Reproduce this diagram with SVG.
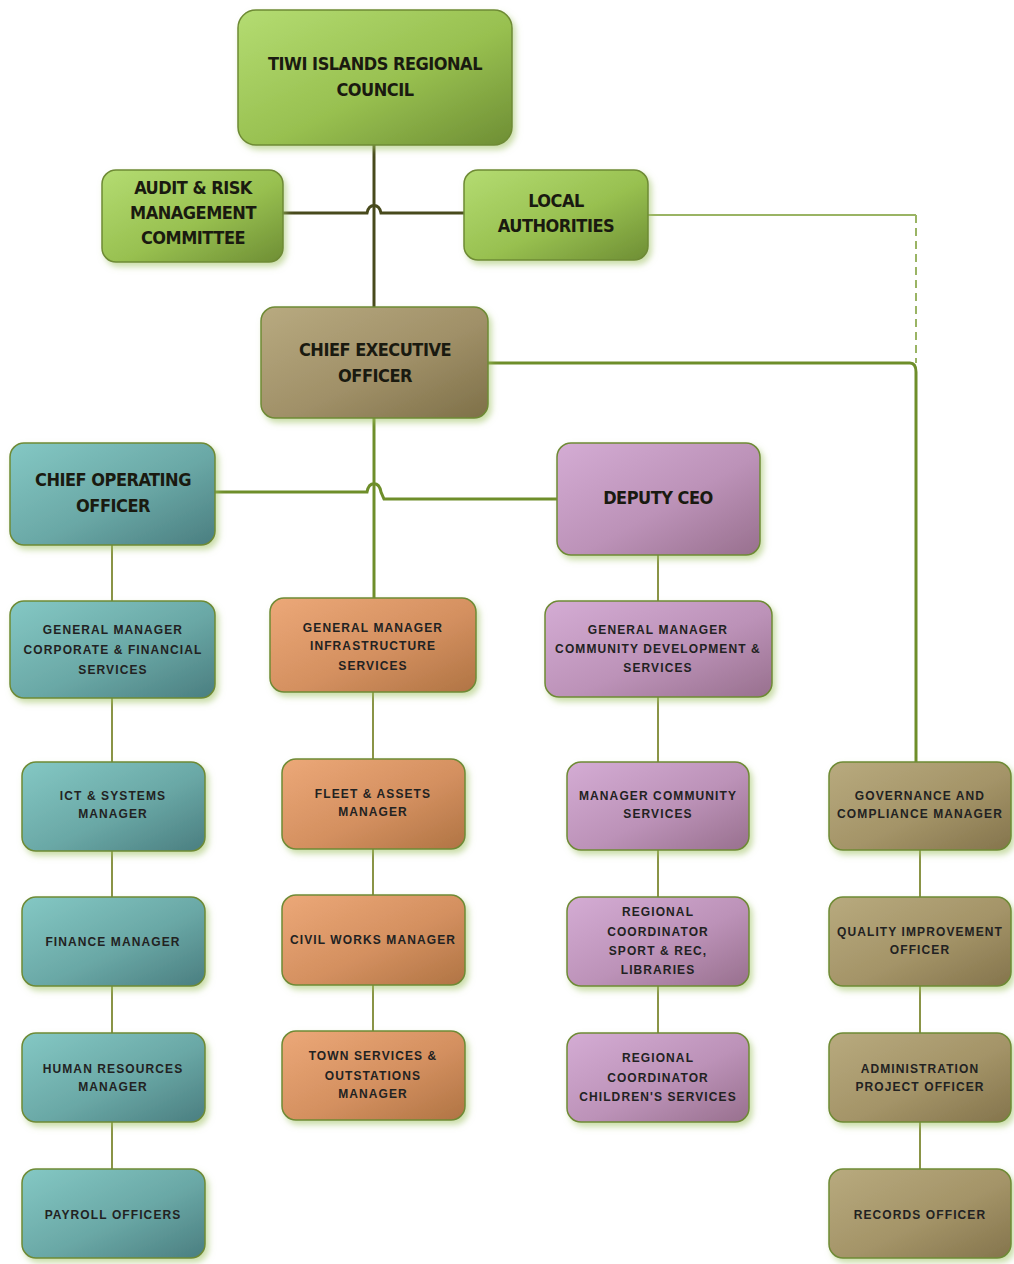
<svg xmlns="http://www.w3.org/2000/svg" width="1014" height="1264" viewBox="0 0 1014 1264">
<defs>
<linearGradient id="gGreen" x1="0" y1="0" x2="1" y2="1"><stop offset="0" stop-color="#b4dc72"/><stop offset="0.55" stop-color="#98c050"/><stop offset="1" stop-color="#6e8e34"/></linearGradient>
<linearGradient id="gCeo" x1="0" y1="0" x2="1" y2="1"><stop offset="0" stop-color="#b8aa80"/><stop offset="0.55" stop-color="#a09068"/><stop offset="1" stop-color="#7e7048"/></linearGradient>
<linearGradient id="gTeal" x1="0" y1="0" x2="1" y2="1"><stop offset="0" stop-color="#84c8c4"/><stop offset="0.55" stop-color="#6aa8a6"/><stop offset="1" stop-color="#4a7e80"/></linearGradient>
<linearGradient id="gOrange" x1="0" y1="0" x2="1" y2="1"><stop offset="0" stop-color="#eca878"/><stop offset="0.55" stop-color="#d49060"/><stop offset="1" stop-color="#b07444"/></linearGradient>
<linearGradient id="gPurple" x1="0" y1="0" x2="1" y2="1"><stop offset="0" stop-color="#d4acd4"/><stop offset="0.55" stop-color="#bc92b8"/><stop offset="1" stop-color="#98708e"/></linearGradient>
<linearGradient id="gBrown" x1="0" y1="0" x2="1" y2="1"><stop offset="0" stop-color="#b8aa7e"/><stop offset="0.55" stop-color="#a49468"/><stop offset="1" stop-color="#84744c"/></linearGradient>
<filter id="sh" x="-10%" y="-10%" width="125%" height="130%"><feDropShadow dx="3" dy="4" stdDeviation="3" flood-color="#9cc060" flood-opacity="0.55"/></filter>
<style>
.box{stroke:#6e8a34;stroke-width:1.5;filter:url(#sh)}
.big{font-family:"DejaVu Sans Condensed","DejaVu Sans",sans-serif;font-weight:bold;font-size:18px;fill:#1a1a10;text-anchor:middle;letter-spacing:-0.5px}
.sm{font-family:"Liberation Sans",Arial,sans-serif;font-weight:bold;font-size:12px;fill:#222;text-anchor:middle;letter-spacing:1.1px}
.dark{fill:none;stroke:#484a1c;stroke-width:3}
.mid{fill:none;stroke:#6e8e2a;stroke-width:3}
.thin{fill:none;stroke:#8a9446;stroke-width:2}
.light{fill:none;stroke:#9ab464;stroke-width:2}
</style>
</defs>
<g id="connectors">
<path class="dark" d="M374,145 V307"/>
<path class="dark" d="M283,213 H367 C369,203 379,203 381,213 H464"/>
<path class="light" d="M648,215 H916"/>
<path class="light" d="M916,215 V363" stroke-dasharray="8,5"/>
<path class="mid" d="M488,363 H910 Q916,363 916,372 V762"/>
<path class="mid" d="M374,418 V598"/>
<path class="mid" d="M215,492 H367 C369,481 379,481 381,492 L384,499 H557"/>
<path class="thin" d="M112,545 V601"/>
<path class="thin" d="M658,555 V601"/>
<path class="thin" d="M112,698 V762 M112,851 V897 M112,986 V1033 M112,1122 V1169"/>
<path class="thin" d="M373,692 V759 M373,849 V895 M373,985 V1031"/>
<path class="thin" d="M658,697 V762 M658,850 V897 M658,986 V1033"/>
<path class="thin" d="M920,850 V897 M920,986 V1033 M920,1122 V1169"/>
</g>
<g id="council"><rect class="box" x="238" y="10" width="274" height="135" rx="18" fill="url(#gGreen)"/><text class="big" x="375" y="70">TIWI ISLANDS REGIONAL</text><text class="big" x="375" y="96">COUNCIL</text></g>
<g id="audit"><rect class="box" x="102" y="170" width="181" height="92" rx="14" fill="url(#gGreen)"/><text class="big" x="193" y="194">AUDIT &amp; RISK</text><text class="big" x="193" y="219">MANAGEMENT</text><text class="big" x="193" y="244">COMMITTEE</text></g>
<g id="local"><rect class="box" x="464" y="170" width="184" height="90" rx="14" fill="url(#gGreen)"/><text class="big" x="556" y="207">LOCAL</text><text class="big" x="556" y="232">AUTHORITIES</text></g>
<g id="ceo"><rect class="box" x="261" y="307" width="227" height="111" rx="14" fill="url(#gCeo)"/><text class="big" x="375" y="356">CHIEF EXECUTIVE</text><text class="big" x="375" y="382">OFFICER</text></g>
<g id="coo"><rect class="box" x="10" y="443" width="205" height="102" rx="14" fill="url(#gTeal)"/><text class="big" x="113" y="486">CHIEF OPERATING</text><text class="big" x="113" y="512">OFFICER</text></g>
<g id="deputy"><rect class="box" x="557" y="443" width="203" height="112" rx="14" fill="url(#gPurple)"/><text class="big" x="658" y="504">DEPUTY CEO</text></g>
<g id="gm-corp"><rect class="box" x="10" y="601" width="205" height="97" rx="14" fill="url(#gTeal)"/><text class="sm" x="113" y="634">GENERAL MANAGER</text><text class="sm" x="113" y="654">CORPORATE &amp; FINANCIAL</text><text class="sm" x="113" y="674">SERVICES</text></g>
<g id="gm-infra"><rect class="box" x="270" y="598" width="206" height="94" rx="14" fill="url(#gOrange)"/><text class="sm" x="373" y="632">GENERAL MANAGER</text><text class="sm" x="373" y="650">INFRASTRUCTURE</text><text class="sm" x="373" y="670">SERVICES</text></g>
<g id="gm-comm"><rect class="box" x="545" y="601" width="227" height="96" rx="14" fill="url(#gPurple)"/><text class="sm" x="658" y="634">GENERAL MANAGER</text><text class="sm" x="658" y="653" letter-spacing="0.6">COMMUNITY DEVELOPMENT &amp;</text><text class="sm" x="658" y="672">SERVICES</text></g>
<g id="ict"><rect class="box" x="22" y="762" width="183" height="89" rx="14" fill="url(#gTeal)"/><text class="sm" x="113" y="800">ICT &amp; SYSTEMS</text><text class="sm" x="113" y="818">MANAGER</text></g>
<g id="fleet"><rect class="box" x="282" y="759" width="183" height="90" rx="14" fill="url(#gOrange)"/><text class="sm" x="373" y="798">FLEET &amp; ASSETS</text><text class="sm" x="373" y="816">MANAGER</text></g>
<g id="mgr-comm"><rect class="box" x="567" y="762" width="182" height="88" rx="14" fill="url(#gPurple)"/><text class="sm" x="658" y="800">MANAGER COMMUNITY</text><text class="sm" x="658" y="818">SERVICES</text></g>
<g id="governance"><rect class="box" x="829" y="762" width="182" height="88" rx="14" fill="url(#gBrown)"/><text class="sm" x="920" y="800">GOVERNANCE AND</text><text class="sm" x="920" y="818" letter-spacing="0.3">COMPLIANCE MANAGER</text></g>
<g id="finance"><rect class="box" x="22" y="897" width="183" height="89" rx="14" fill="url(#gTeal)"/><text class="sm" x="113" y="946">FINANCE MANAGER</text></g>
<g id="civil"><rect class="box" x="282" y="895" width="183" height="90" rx="14" fill="url(#gOrange)"/><text class="sm" x="373" y="944" letter-spacing="0.4">CIVIL WORKS MANAGER</text></g>
<g id="sport"><rect class="box" x="567" y="897" width="182" height="89" rx="14" fill="url(#gPurple)"/><text class="sm" x="658" y="916">REGIONAL</text><text class="sm" x="658" y="936">COORDINATOR</text><text class="sm" x="658" y="955">SPORT &amp; REC,</text><text class="sm" x="658" y="974">LIBRARIES</text></g>
<g id="quality"><rect class="box" x="829" y="897" width="182" height="89" rx="14" fill="url(#gBrown)"/><text class="sm" x="920" y="936" letter-spacing="0.3">QUALITY IMPROVEMENT</text><text class="sm" x="920" y="954">OFFICER</text></g>
<g id="hr"><rect class="box" x="22" y="1033" width="183" height="89" rx="14" fill="url(#gTeal)"/><text class="sm" x="113" y="1073">HUMAN RESOURCES</text><text class="sm" x="113" y="1091">MANAGER</text></g>
<g id="town"><rect class="box" x="282" y="1031" width="183" height="89" rx="14" fill="url(#gOrange)"/><text class="sm" x="373" y="1060">TOWN SERVICES &amp;</text><text class="sm" x="373" y="1080">OUTSTATIONS</text><text class="sm" x="373" y="1098">MANAGER</text></g>
<g id="children"><rect class="box" x="567" y="1033" width="182" height="89" rx="14" fill="url(#gPurple)"/><text class="sm" x="658" y="1062">REGIONAL</text><text class="sm" x="658" y="1082">COORDINATOR</text><text class="sm" x="658" y="1101" letter-spacing="0.6">CHILDREN'S SERVICES</text></g>
<g id="admin"><rect class="box" x="829" y="1033" width="182" height="89" rx="14" fill="url(#gBrown)"/><text class="sm" x="920" y="1073">ADMINISTRATION</text><text class="sm" x="920" y="1091">PROJECT OFFICER</text></g>
<g id="payroll"><rect class="box" x="22" y="1169" width="183" height="89" rx="14" fill="url(#gTeal)"/><text class="sm" x="113" y="1219">PAYROLL OFFICERS</text></g>
<g id="records"><rect class="box" x="829" y="1169" width="182" height="89" rx="14" fill="url(#gBrown)"/><text class="sm" x="920" y="1219">RECORDS OFFICER</text></g>
</svg>
